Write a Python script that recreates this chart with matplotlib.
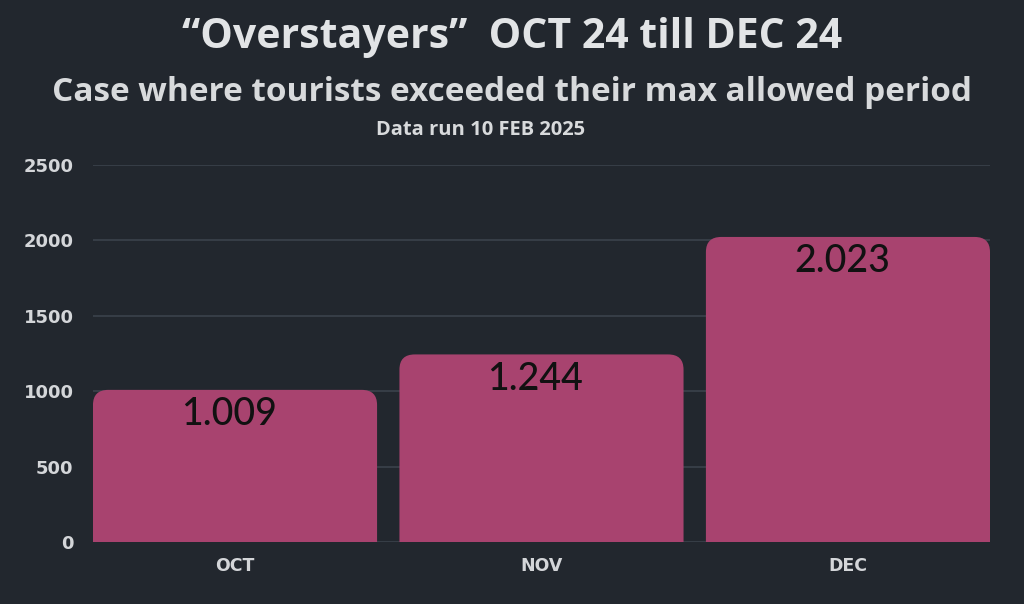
import matplotlib.pyplot as plt
from matplotlib.patches import FancyBboxPatch

# Overstayers per month (Oct-Dec 2024)
months = ["OCT", "NOV", "DEC"]
cases = [1009, 1244, 2023]
value_labels = ["1.009", "1.244", "2.023"]
y_ticks = [0, 500, 1000, 1500, 2000, 2500]

bg = '#22272e'
bar_color = '#a8436f'
grid_color = '#3b424b'
text_color = '#d4d6d9'

fig = plt.figure(figsize=(10.24, 6.04), dpi=100, facecolor=bg)
ax = fig.add_axes([0.0908, 0.1026, 0.876, 0.6242], facecolor=bg)

bars = ax.bar(range(len(months)), cases, width=0.927, color=bar_color)
ax.set_xlim(-0.4635, 2.4635)
ax.set_ylim(0, 2500)

# swap plain bars for ones with rounded top corners
for bar in bars:
    bar.set_visible(False)
    x, w, h = bar.get_x(), bar.get_width(), bar.get_height()
    rounded = FancyBboxPatch((x, -200), w, h + 200,
                             boxstyle="round,pad=0,rounding_size=0.05",
                             mutation_aspect=2000, facecolor=bar_color,
                             edgecolor='none', zorder=2)
    rounded.set_clip_path(ax.patch)
    ax.add_patch(rounded)

for i, (val, lab) in enumerate(zip(cases, value_labels)):
    ax.text(i - 0.02, val - 165, lab, ha='center', va='center', fontsize=27,
            family='Lato', fontweight='medium', color='#111111', zorder=3)

ax.set_yticks(y_ticks)
ax.set_yticklabels([str(t) for t in y_ticks], fontsize=13, fontweight='bold',
                   family='DejaVu Sans', color=text_color)
ax.set_xticks(range(len(months)))
ax.set_xticklabels(months, fontsize=12.5, fontweight='bold',
                   family='DejaVu Sans', color=text_color)
ax.tick_params(axis='both', length=0)
ax.tick_params(axis='y', pad=14)
ax.tick_params(axis='x', pad=11)
ax.grid(axis='y', color=grid_color, linewidth=1.2, zorder=0)
ax.set_axisbelow(True)
for s in ax.spines.values():
    s.set_visible(False)

fig.text(0.5, 0.938, "\u201cOverstayers\u201d  OCT 24 till DEC 24", ha='center', va='center',
         fontsize=29.5, fontweight='bold', family='Open Sans', color='#e2e4e6')
fig.text(0.5, 0.847, "Case where tourists exceeded their max allowed period", ha='center', va='center',
         fontsize=24, fontweight='bold', family='Open Sans', color='#d8dadc')
fig.text(0.469, 0.784, "Data run 10 FEB 2025", ha='center', va='center',
         fontsize=14.5, fontweight='bold', family='Open Sans', color='#d8dadc')

fig.savefig('out.png', dpi=100, facecolor=bg)
